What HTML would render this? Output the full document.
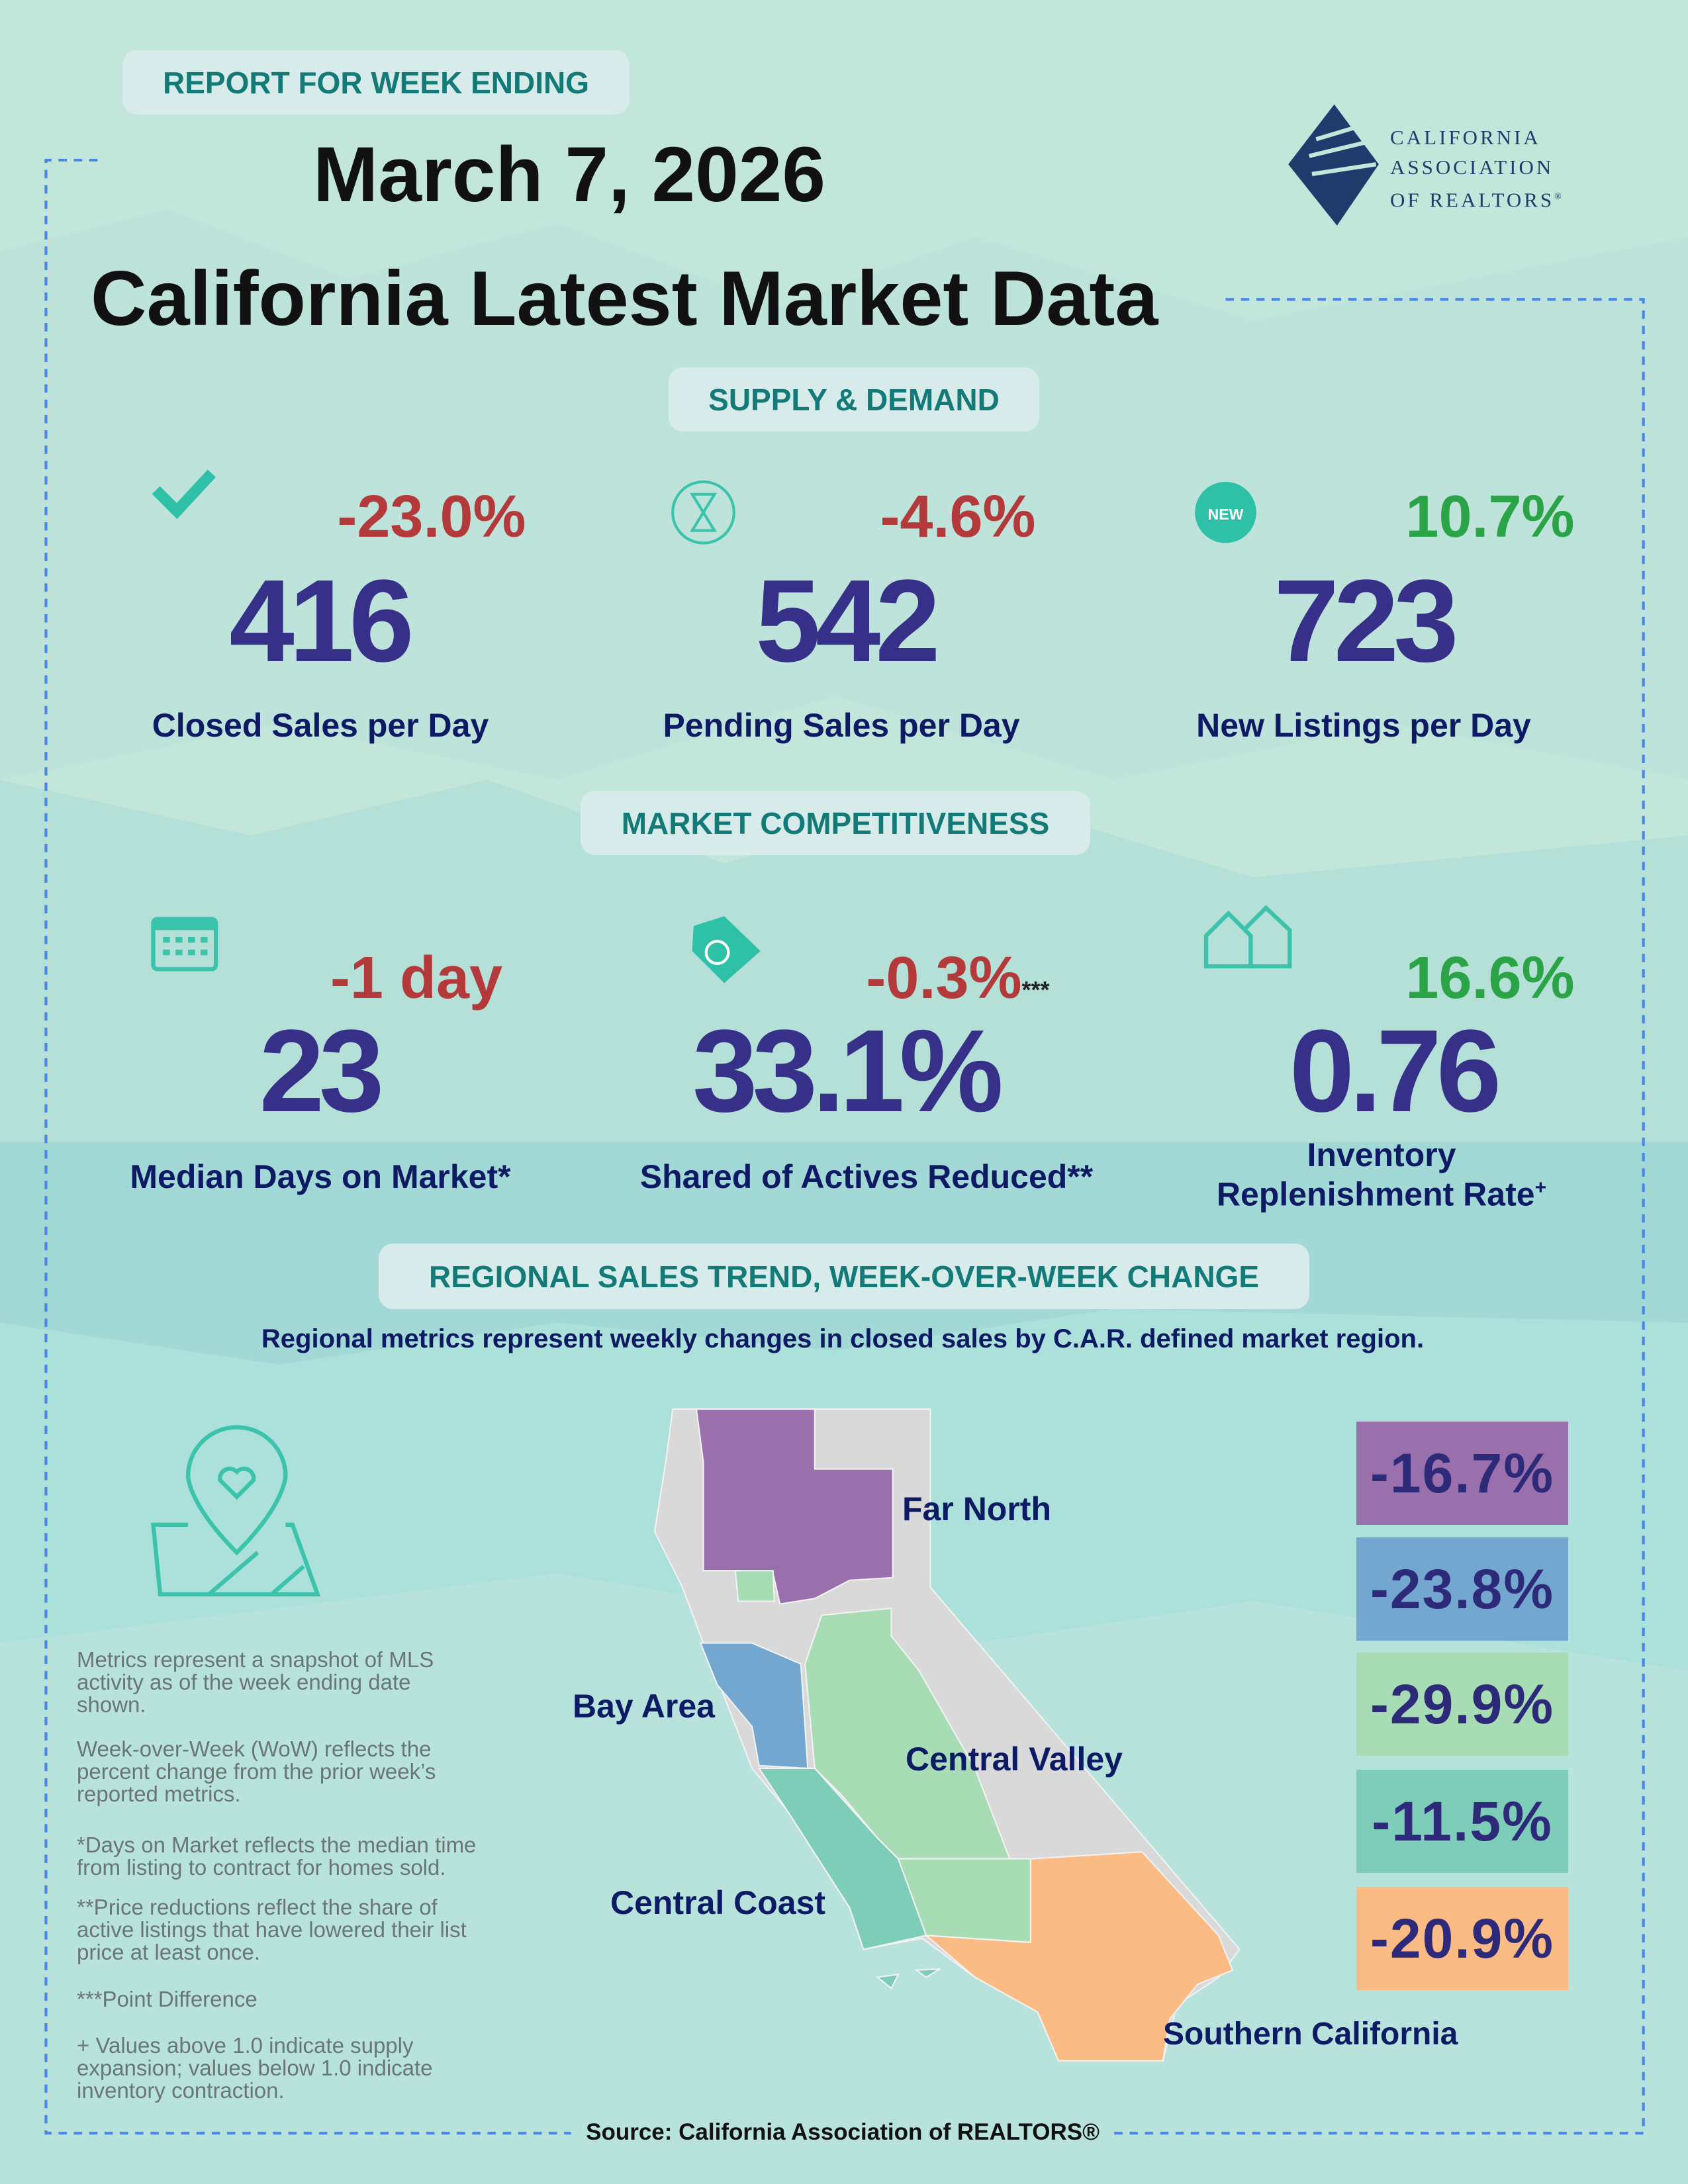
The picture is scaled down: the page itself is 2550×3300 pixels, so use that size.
<!DOCTYPE html>
<html><head><meta charset="utf-8">
<style>
*{margin:0;padding:0;box-sizing:border-box}
body{width:2550px;height:3300px;position:relative;overflow:hidden;background:#c3e6db;font-family:"Liberation Sans",sans-serif}
svg.bg{position:absolute;left:0;top:0}
.t{position:absolute;white-space:nowrap;text-align:center;line-height:1;font-weight:bold}
.pill{position:absolute;background:#d7ecea;border-radius:22px;color:#137a78;font-weight:bold;font-size:46px;display:flex;align-items:center;justify-content:center}
.pct{font-size:90px}
.red{color:#b3393a}.grn{color:#2aa446}
.big{font-size:177px;color:#363088;letter-spacing:-8px}
.lab{font-size:50px;color:#0e1a63}
.box{position:absolute;left:2049px;width:320px;height:156px;color:#2e2a7a;font-weight:bold;font-size:84px;display:flex;align-items:center;justify-content:center;letter-spacing:2px}
.note{position:absolute;left:116px;font-size:33px;line-height:34px;color:#6a7676}
.ml{font-size:50px;color:#0d1b64}
</style></head><body>
<svg class="bg" width="2550" height="3300" viewBox="0 0 1212 1568.5">
<rect width="1212" height="1569" fill="#c3e6db"/>
<polygon points="0,180 120,150 250,200 400,160 560,220 700,170 900,230 1212,170 1212,560 1000,520 800,560 600,500 400,560 200,520 0,560" fill="#bde3da"/>
<polygon points="0,560 180,600 350,560 520,620 700,570 900,630 1212,600 1212,820 0,820" fill="#b4e0d8"/>
<polygon points="0,820 1212,820 1212,950 1000,960 800,940 600,970 400,950 200,980 0,950" fill="#a2d9d6"/>
<polygon points="0,950 200,980 400,950 600,970 800,940 1212,950 1212,1200 900,1150 700,1180 400,1130 0,1180" fill="#ace0da"/>
<polygon points="0,1180 400,1130 700,1180 900,1150 1212,1200 1212,1569 0,1569" fill="#b8e3dc"/>
<g fill="none" stroke="#4a86e8" stroke-width="2" stroke-dasharray="6,5">
<path d="M70,115 H33 V1532 H410"/><path d="M800,1532 H1180 V215 H878"/>
</g>
<g stroke="#f2f2f2" stroke-width="1">
<polygon points="483,1012 668,1012 668,1140 890,1400 875,1420 845,1440 835,1480 760,1480 745,1445 700,1420 662,1392 620,1400 610,1370 565,1300 540,1270 505,1180 490,1140 470,1100 478,1050" fill="#d9d9d9"/>
<polygon points="500,1012 585,1012 585,1055 641,1055 641,1133 610,1135 585,1148 560,1152 555,1130 530,1128 505,1128 505,1050" fill="#9a70ac"/>
<polygon points="528,1128 555,1128 556,1150 530,1150" fill="#a8dcb4"/>
<polygon points="503,1180 540,1180 575,1195 580,1270 545,1268 540,1240 515,1210" fill="#74a7d0"/>
<polygon points="590,1160 640,1155 640,1175 660,1200 700,1270 725,1335 645,1335 630,1320 605,1290 585,1270 578,1195" fill="#a8dcb4"/>
<polygon points="545,1270 585,1270 630,1320 645,1335 650,1345 665,1390 620,1400 610,1370 565,1300" fill="#7ecdb8"/>
<polygon points="645,1335 740,1335 740,1395 665,1390" fill="#a8dcb4"/>
<polygon points="740,1335 820,1330 875,1390 885,1415 860,1425 840,1450 835,1480 760,1480 745,1445 700,1420 665,1390 740,1395" fill="#fbbb85"/>
<polygon points="630,1420 645,1418 640,1428" fill="#7ecdb8"/><polygon points="658,1415 675,1414 665,1420" fill="#7ecdb8"/>
</g>
<path d="M112,352 L127,367 L152,340" fill="none" stroke="#2fc0a8" stroke-width="8"/>
<circle cx="505" cy="368" r="22" fill="none" stroke="#3cc3ac" stroke-width="2"/>
<path d="M497,355 H513 L505,368 L513,381 H497 L505,368Z" fill="none" stroke="#3cc3ac" stroke-width="2"/>
<circle cx="880" cy="368" r="22" fill="#2fc0a8"/><text x="880" y="373" font-size="11" font-weight="bold" fill="#fff" text-anchor="middle" font-family="Liberation Sans">NEW</text>
<rect x="110" y="660" width="45" height="36" rx="3" fill="none" stroke="#3cc3ac" stroke-width="3"/><rect x="110" y="660" width="45" height="8" fill="#3cc3ac"/>
<g fill="#3cc3ac"><rect x="117" y="673" width="5" height="4"/><rect x="126" y="673" width="5" height="4"/><rect x="135" y="673" width="5" height="4"/><rect x="144" y="673" width="5" height="4"/><rect x="117" y="682" width="5" height="4"/><rect x="126" y="682" width="5" height="4"/><rect x="135" y="682" width="5" height="4"/><rect x="144" y="682" width="5" height="4"/></g>
<polygon points="498,665 520,658 546,683 520,706 497,683" fill="#2fc0a8"/><circle cx="515" cy="684" r="8" fill="none" stroke="#fff" stroke-width="2"/>
<path d="M866,672 L882,656 L898,672 V694 H866Z M893,668 L909,652 L926,668 V694 H898" fill="none" stroke="#3cc3ac" stroke-width="3"/>
<g fill="none" stroke="#3cc3ac" stroke-width="3"><path d="M170,1115 C135,1080 135,1060 135,1060 A35,35 0 1 1 205,1060 C205,1060 205,1080 170,1115Z"/><path d="M170,1075 l-12,-12 a7,7 0 0 1 12,-6 a7,7 0 0 1 12,6z"/><path d="M135,1095 H110 L115,1145 H228 L210,1095 H205 M150,1145 L185,1115 M195,1145 L218,1125"/></g>
<polygon points="958,75 990,118 960,162 925,118" fill="#1f3b6b"/>
<path d="M945,100 L985,88 M940,112 L990,100 M942,125 L988,118" stroke="#c3e6db" stroke-width="3"/>
</svg>

<div class="pill" style="left:185px;top:76px;width:766px;height:97px">REPORT FOR WEEK ENDING</div>
<div class="t" style="left:0;width:1720px;top:205px;font-size:118px;color:#111">March 7, 2026</div>
<div class="t" style="left:137px;top:392px;font-size:117px;color:#111">California Latest Market Data</div>
<div style="position:absolute;left:2100px;top:185px;font-family:'Liberation Serif',serif;font-size:31px;line-height:45px;color:#1f3b6b;letter-spacing:4px">CALIFORNIA<br>ASSOCIATION<br>OF REALTORS<sup style="font-size:14px">®</sup></div>

<div class="pill" style="left:1010px;top:555px;width:560px;height:97px">SUPPLY &amp; DEMAND</div>
<div class="t pct red" style="left:-348px;width:2000px;top:736px">-23.0%</div>
<div class="t pct red" style="left:447px;width:2000px;top:736px">-4.6%</div>
<div class="t pct grn" style="left:1251px;width:2000px;top:736px">10.7%</div>
<div class="t big" style="left:-518px;width:2000px;top:850px">416</div>
<div class="t big" style="left:277px;width:2000px;top:850px">542</div>
<div class="t big" style="left:1060px;width:2000px;top:850px">723</div>
<div class="t lab" style="left:-516px;width:2000px;top:1071px">Closed Sales per Day</div>
<div class="t lab" style="left:271px;width:2000px;top:1071px">Pending Sales per Day</div>
<div class="t lab" style="left:1060px;width:2000px;top:1071px">New Listings per Day</div>

<div class="pill" style="left:877px;top:1195px;width:770px;height:97px">MARKET COMPETITIVENESS</div>
<div class="t pct red" style="left:-371px;width:2000px;top:1433px">-1 day</div>
<div class="t pct red" style="left:447px;width:2000px;top:1433px">-0.3%<span style="font-size:36px;color:#222">***</span></div>
<div class="t pct grn" style="left:1251px;width:2000px;top:1433px">16.6%</div>
<div class="t big" style="left:-518px;width:2000px;top:1530px">23</div>
<div class="t big" style="left:277px;width:2000px;top:1530px">33.1%</div>
<div class="t big" style="left:1104px;width:2000px;top:1530px">0.76</div>
<div class="t lab" style="left:-516px;width:2000px;top:1753px">Median Days on Market*</div>
<div class="t lab" style="left:309px;width:2000px;top:1753px">Shared of Actives Reduced**</div>
<div class="t lab" style="left:1087px;width:2000px;top:1721px;line-height:49px">Inventory<br>Replenishment Rate<sup style="font-size:30px">+</sup></div>

<div class="pill" style="left:572px;top:1879px;width:1406px;height:99px">REGIONAL SALES TREND, WEEK-OVER-WEEK CHANGE</div>
<div class="t" style="left:273px;width:2000px;top:2003px;font-size:40px;color:#0e1a63">Regional metrics represent weekly changes in closed sales by C.A.R. defined market region.</div>

<div class="t ml" style="left:1363px;top:2255px">Far North</div>
<div class="t ml" style="left:865px;top:2553px">Bay Area</div>
<div class="t ml" style="left:1368px;top:2633px">Central Valley</div>
<div class="t ml" style="left:922px;top:2850px">Central Coast</div>
<div class="t ml" style="left:1757px;top:3050px;font-size:48px">Southern California</div>

<div class="box" style="top:2148px;background:#9a70ac">-16.7%</div>
<div class="box" style="top:2323px;background:#74a7d0">-23.8%</div>
<div class="box" style="top:2497px;background:#a8dcb4">-29.9%</div>
<div class="box" style="top:2674px;background:#7ecdb8">-11.5%</div>
<div class="box" style="top:2851px;background:#fbbb85">-20.9%</div>

<div class="note" style="top:2491px">Metrics represent a snapshot of MLS<br>activity as of the week ending date<br>shown.</div>
<div class="note" style="top:2626px">Week-over-Week (WoW) reflects the<br>percent change from the prior week’s<br>reported metrics.</div>
<div class="note" style="top:2771px">*Days on Market reflects the median time<br>from listing to contract for homes sold.</div>
<div class="note" style="top:2865px">**Price reductions reflect the share of<br>active listings that have lowered their list<br>price at least once.</div>
<div class="note" style="top:3004px">***Point Difference</div>
<div class="note" style="top:3074px">+ Values above 1.0 indicate supply<br>expansion; values below 1.0 indicate<br>inventory contraction.</div>

<div class="t" style="left:273px;width:2000px;top:3204px;font-size:35px;color:#111">Source: California Association of REALTORS®</div>
</body></html>
